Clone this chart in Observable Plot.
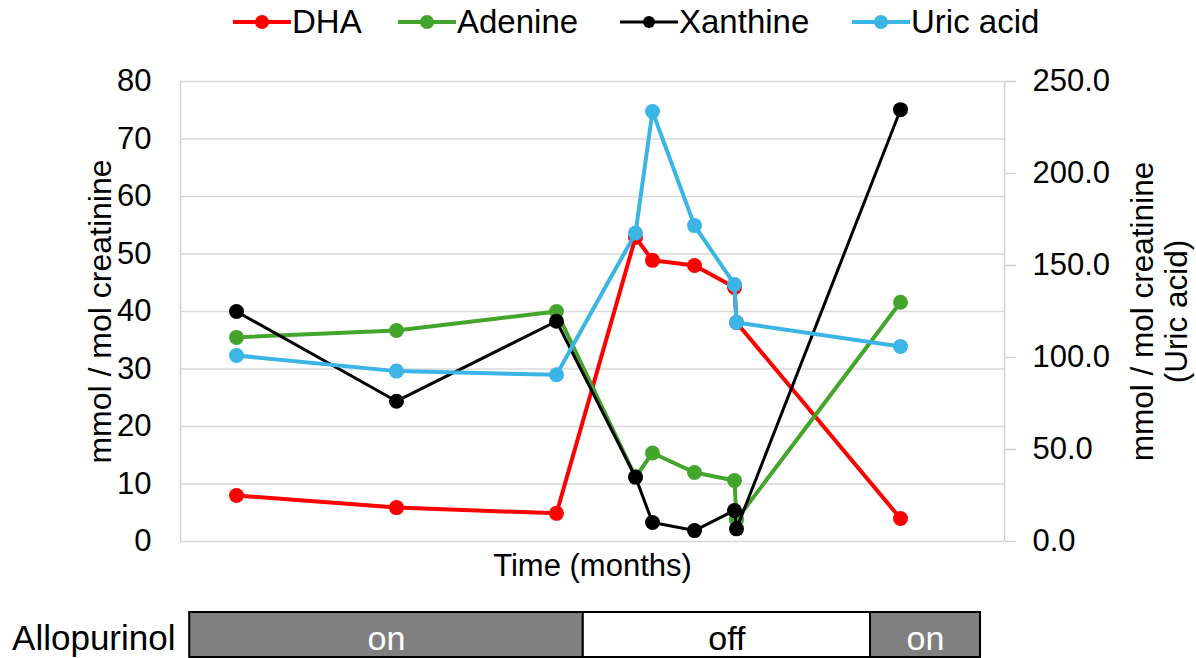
<!DOCTYPE html>
<html><head><meta charset="utf-8">
<script src="https://cdn.jsdelivr.net/npm/d3@7"></script>
<script src="https://cdn.jsdelivr.net/npm/@observablehq/plot@0.6"></script>
<style>
body{margin:0;background:#fff;font-family:"Liberation Sans",Arial,sans-serif;}
#wrap{position:relative;width:1196px;height:658px;overflow:hidden;background:#fff}
#legend{position:relative;height:46px}
.item{position:absolute;top:0;height:44px;display:flex;align-items:center;font-size:33px;color:#000;white-space:nowrap}
.item svg{margin-right:1px}
#main svg,#bar svg{display:block}
</style></head><body>
<div id="wrap"><div id="legend"></div><div id="main"></div><div id="bar"></div></div>
<script>
// ---- data ----
const months   = [1.4, 5.4, 9.4, 11.375, 11.8, 12.85, 13.85, 13.9, 18.0];
const dha      = [8.0, 5.9, 4.9, 52.9, 48.9, 48.0, 44.2, 38.1, 4.0];
const adenine  = [35.5, 36.7, 40.0, 11.2, 15.4, 12.0, 10.6, 3.8, 41.6];
const xanthine = [40.0, 24.4, 38.3, 11.2, 3.3, 1.9, 5.4, 2.2, 75.1];
const uricAcid = [101.1, 92.6, 90.6, 167.6, 233.7, 171.7, 139.7, 119.0, 106.0];

const seriesNames  = ["DHA", "Adenine", "Xanthine", "Uric acid"];
const seriesColors = ["#ff0000", "#43a52c", "#000000", "#3bb5e6"];
const seriesWidths = [4, 4, 3, 4];
const seriesAxis   = ["left", "left", "left", "right"];
const legendLeft   = [233, 398, 620, 852];

const leftTicks  = [0, 10, 20, 30, 40, 50, 60, 70, 80];
const rightTicks = [0, 50, 100, 150, 200, 250];
const leftMax = 80, rightMax = 250;
const xDomain = [0, 20.6];

const allopurinolStart = [0.23, 10.07, 17.25];
const allopurinolEnd   = [10.07, 17.25, 20.0];
const allopurinolState = ["on", "off", "on"];

// ---- build tables ----
const seriesValues = [dha, adenine, xanthine, uricAcid];
const rightToLeft = v => v * leftMax / rightMax;
const series = seriesNames.map((name, i) => ({
  name, color: seriesColors[i], width: seriesWidths[i],
  rows: months.map((m, j) => ({
    series: name, month: m, value: seriesValues[i][j],
    y: seriesAxis[i] === "right" ? rightToLeft(seriesValues[i][j]) : seriesValues[i][j]
  }))
}));
const periods = allopurinolStart.map((s, i) => ({start: s, end: allopurinolEnd[i], state: allopurinolState[i]}));

// ---- legend ----
const legend = document.getElementById("legend");
seriesNames.forEach((name, i) => {
  const it = document.createElement("div");
  it.className = "item";
  it.style.left = legendLeft[i] + "px";
  it.innerHTML = `<svg width="58" height="20"><line x1="0" x2="58" y1="10" y2="10" stroke="${seriesColors[i]}" stroke-width="${seriesWidths[i]}"/><circle cx="29" cy="10" r="${i===2?6:7}" fill="${seriesColors[i]}"/></svg><span>${name}</span>`;
  legend.appendChild(it);
});

// ---- main chart ----
const grid = "#d9d9d9";
const marks = [
  Plot.ruleY(leftTicks, {stroke: grid, strokeWidth: 1.5}),
  Plot.ruleX([xDomain[0]], {stroke: "#d0d0d0", strokeWidth: 1.5}),
  Plot.ruleX([xDomain[1]], {stroke: "#d0d0d0", strokeWidth: 1.5}),
  Plot.axisY(leftTicks, {anchor: "left", tickSize: 0, tickPadding: 29, label: null, tickFormat: d => String(d)}),
  Plot.axisY(rightTicks.map(rightToLeft), {anchor: "right", tickSize: 11, tickPadding: 17, stroke: "#d0d0d0", strokeWidth: 1.5, label: null,
    tickFormat: d => (d * rightMax / leftMax).toFixed(1)}),
  Plot.text(["mmol / mol creatinine"], {frameAnchor: "left", textAnchor: "middle", lineAnchor: "middle", rotate: -90, dx: -80, fontSize: 32}),
  Plot.text(["mmol / mol creatinine\n(Uric acid)"], {frameAnchor: "right", textAnchor: "middle", lineAnchor: "middle", rotate: -90, dx: 155, lineHeight: 1.08, fontSize: 31.5}),
  Plot.text(["Time (months)"], {frameAnchor: "bottom", textAnchor: "middle", lineAnchor: "middle", dy: 25, fontSize: 31})
];
series.forEach(s => {
  marks.push(Plot.line(s.rows, {x: "month", y: "y", stroke: s.color, strokeWidth: s.width}));
  marks.push(Plot.dot(s.rows, {x: "month", y: "y", r: 7.5, fill: s.color, stroke: "none"}));
});

const chart = Plot.plot({
  width: 1196, height: 550,
  marginLeft: 180, marginRight: 192, marginTop: 35, marginBottom: 55,
  style: {fontSize: "31px", fontFamily: "Liberation Sans, Arial, sans-serif", color: "#000", background: "#fff"},
  x: {domain: xDomain, axis: null},
  y: {domain: [0, leftMax], axis: null},
  marks
});
document.getElementById("main").appendChild(chart);

// ---- allopurinol bar ----
const bar = Plot.plot({
  width: 1196, height: 62,
  marginLeft: 180, marginRight: 192, marginTop: 16, marginBottom: 1,
  style: {fontSize: "34px", fontFamily: "Liberation Sans, Arial, sans-serif", color: "#000", background: "#fff"},
  x: {domain: xDomain, axis: null},
  y: {domain: [0, 1], axis: null},
  marks: [
    Plot.rect(periods.filter(d => d.state === "on"), {x1: "start", x2: "end", y1: 0, y2: 1, fill: "#808080", stroke: "#000", strokeWidth: 2}),
    Plot.rect(periods.filter(d => d.state !== "on"), {x1: "start", x2: "end", y1: 0, y2: 1, fill: "#ffffff", stroke: "#000", strokeWidth: 2}),
    Plot.text(periods, {x: d => (d.start + d.end) / 2, y: 0.5, text: "state", fill: d => d.state === "on" ? "#ffffff" : "#000000", fontSize: 34, dy: 4}),
    Plot.text(["Allopurinol"], {frameAnchor: "left", dx: -5, textAnchor: "end", fontSize: 35, dy: 4})
  ]
});
document.getElementById("bar").appendChild(bar);
</script>
</body></html>
